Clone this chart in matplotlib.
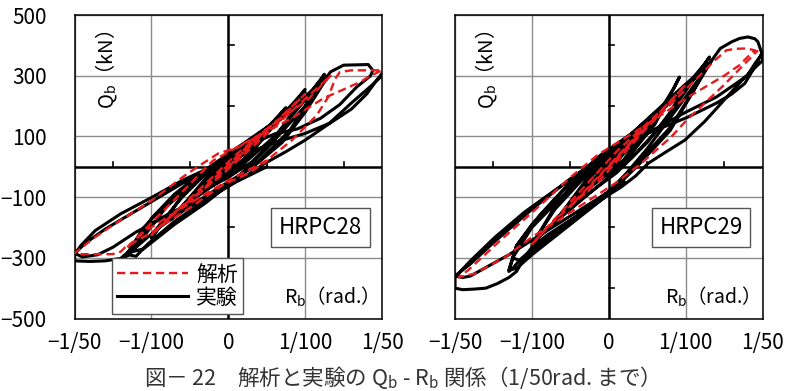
import matplotlib.pyplot as plt
import numpy as np

plt.rcParams['font.family'] = ['Noto Sans CJK JP', 'DejaVu Sans']

# drift angle R_b in 1/100 rad, shear force Q_b in kN
exp28 = [(0, 0), (0.25, 65), (0.15, 35), (0.0, 5), (-0.25, -60), (-0.15, -30), (0.0, -5),
         (0.5, 130), (0.4, 100), (0.2, 50), (0.0, 15), (-0.2, -25), (-0.5, -120),
         (-0.4, -90), (-0.2, -45), (0.0, -10), (0.2, 25),
         (0.5, 125), (0.3, 75), (0.0, 15), (-0.5, -115), (-0.3, -70), (0.0, -10),
         (0.75, 195), (0.6, 150), (0.3, 75), (0.05, 30), (-0.2, -10), (-0.75, -175),
         (-0.6, -135), (-0.3, -70), (-0.05, -25), (0.2, 15),
         (0.75, 185), (0.55, 130), (0.2, 50), (-0.1, 5), (-0.75, -170), (-0.55, -120),
         (-0.2, -45), (0.1, -5),
         (0.5, 110), (1.0, 255), (0.9, 220), (0.6, 150), (0.3, 85), (0.0, 35), (-0.3, -15),
         (-0.6, -95), (-1.0, -235), (-0.9, -200), (-0.6, -135), (-0.3, -75), (0.0, -35),
         (0.3, 15), (0.6, 90),
         (1.0, 245), (0.85, 200), (0.5, 120), (0.1, 45), (-0.2, 0), (-0.6, -100),
         (-1.0, -225), (-0.85, -185), (-0.5, -115), (-0.1, -45), (0.2, 10), (0.6, 100),
         (1.0, 220), (1.25, 305), (1.2, 280), (1.25, 300), (1.1, 255), (0.8, 185),
         (0.4, 110), (0.0, 40), (-0.4, -35), (-0.8, -120), (-1.1, -200), (-1.35, -300),
         (-1.3, -290), (-1.2, -265), (-0.9, -200), (-0.5, -130), (-0.1, -65), (0.3, -5),
         (0.7, 80), (1.0, 180), (1.2, 260), (1.3, 300), (1.15, 250), (0.85, 190),
         (0.5, 130), (0.1, 60), (-0.3, -10), (-0.7, -90), (-1.0, -170), (-1.3, -290),
         (-1.2, -295), (-1.05, -255), (-0.7, -180), (-0.3, -110), (0.0, -55), (0.4, 20),
         (0.8, 120), (1.1, 240), (1.25, 300), (1.1, 250), (0.7, 160), (0.3, 80),
         (-0.2, 0), (-0.8, -130), (-1.25, -280), (-1.1, -270), (-0.7, -190),
         (-0.3, -120), (0.1, -40), (0.5, 60), (1.0, 200),
         (1.33, 313), (1.5, 335), (1.82, 337), (1.88, 318), (1.85, 300), (1.67, 263),
         (1.45, 205), (1.2, 160), (0.9, 125), (0.6, 108), (0.3, 75), (0.05, 32),
         (-0.26, -5), (-0.6, -45), (-0.99, -100), (-1.4, -155), (-1.73, -210),
         (-1.92, -260), (-2.0, -290), (-2.0, -310), (-1.8, -312), (-1.6, -310),
         (-1.4, -302), (-1.3, -280), (-1.2, -250), (-0.99, -185), (-0.7, -145),
         (-0.4, -115), (-0.13, -78), (0.2, -35), (0.48, 12), (0.75, 50), (1.0, 88),
         (1.3, 140), (1.6, 210), (1.85, 265), (2.0, 300), (2.0, 308), (1.9, 275),
         (1.8, 240), (1.6, 190), (1.33, 145), (1.0, 110), (0.6, 80), (0.3, 50),
         (0.0, 20), (-0.3, -15), (-0.6, -55), (-1.0, -115), (-1.3, -160), (-1.6, -205),
         (-1.85, -250), (-2.0, -285), (-1.9, -297), (-1.7, -290), (-1.5, -265),
         (-1.2, -215), (-0.9, -175), (-0.5, -130), (-0.2, -95), (0.1, -50), (0.5, 0)]

ana28 = [(0, 0), (0.5, 125), (0.3, 80), (-0.5, -115), (-0.3, -70), (0.0, 0),
         (1.0, 240), (0.7, 165), (0.1, 40), (-1.0, -225), (-0.7, -150), (-0.1, -30),
         (1.33, 300), (1.05, 225), (0.4, 105), (-0.2, 20), (-1.33, -270), (-1.1, -215),
         (-0.5, -120), (0.0, -45), (0.5, 21), (0.83, 88), (1.15, 170), (1.3, 230),
         (1.39, 290), (1.45, 312), (1.6, 318), (2.0, 318), (1.85, 300), (1.72, 280),
         (1.5, 255), (1.24, 226), (0.85, 164), (0.61, 131), (0.35, 95), (0.13, 65),
         (-0.13, 44), (-0.4, 0), (-0.6, -35), (-0.99, -110), (-1.47, -187),
         (-1.75, -235), (-1.9, -265), (-2.0, -285), (-1.9, -288), (-1.81, -288),
         (-1.51, -288), (-1.4, -280), (-1.34, -265), (-1.03, -221), (-0.5, -135),
         (-0.08, -61), (0.26, -22), (0.52, 22)]

exp29 = [(0, 0), (0.25, 70), (0.15, 40), (0.0, 5), (-0.25, -65), (-0.15, -35), (0.0, -5),
         (0.5, 140), (0.4, 105), (0.2, 55), (0.0, 20), (-0.2, -25), (-0.5, -135),
         (-0.4, -100), (-0.2, -50), (0.0, -20), (0.2, 25),
         (0.5, 135), (0.3, 75), (0.0, 15), (-0.5, -130), (-0.3, -75), (0.0, -15),
         (0.75, 210), (0.6, 165), (0.3, 90), (0.05, 40), (-0.2, -10), (-0.75, -200),
         (-0.6, -150), (-0.3, -80), (-0.05, -30), (0.2, 10),
         (0.75, 205), (0.5, 135), (0.2, 55), (-0.2, -20), (-0.75, -195), (-0.5, -130),
         (-0.2, -55), (0.2, 15),
         (0.6, 140), (0.92, 296), (0.85, 260), (0.7, 200), (0.4, 125), (0.0, 40),
         (-0.3, -20), (-0.7, -130), (-1.0, -260), (-0.9, -230), (-0.6, -160),
         (-0.3, -95), (0.1, -20), (0.5, 80), (0.8, 180),
         (1.0, 270), (0.85, 225), (0.5, 140), (0.1, 50), (-0.3, -30), (-0.7, -140),
         (-1.0, -255), (-0.85, -215), (-0.5, -140), (-0.1, -55), (0.3, 30), (0.7, 140),
         (1.0, 250), (1.31, 362), (1.25, 340), (1.1, 295), (0.9, 250), (0.6, 180),
         (0.3, 110), (-0.1, 40), (-0.5, -50), (-0.9, -160), (-1.2, -260), (-1.3, -345),
         (-1.25, -335), (-1.15, -305), (-0.9, -250), (-0.6, -195), (-0.3, -140),
         (0.0, -80), (0.4, 20), (0.8, 130), (1.1, 250), (1.34, 351), (1.25, 320),
         (1.0, 265), (0.7, 200), (0.3, 110), (-0.2, 10), (-0.6, -80), (-1.0, -190),
         (-1.2, -260), (-1.3, -340), (-1.2, -335), (-1.0, -290), (-0.7, -230),
         (-0.4, -170), (0.0, -90), (0.4, 10), (0.8, 120), (1.1, 250), (1.3, 340),
         (1.15, 300), (0.8, 220), (0.4, 130), (0.0, 50), (-0.5, -70), (-1.0, -200),
         (-1.25, -300), (-1.15, -310), (-0.8, -240), (-0.4, -160), (0.0, -90),
         (0.5, 60), (1.0, 230), (1.2, 300), (1.34, 351), (1.45, 390), (1.6, 412),
         (1.7, 423), (1.81, 428), (1.9, 422), (1.94, 412), (1.99, 374), (1.9, 330),
         (1.77, 275), (1.6, 240), (1.4, 210), (1.03, 164), (0.8, 140), (0.6, 120),
         (0.2, 80), (0.04, 54), (-0.27, 0), (-0.7, -77), (-1.1, -150), (-1.48, -232),
         (-1.8, -310), (-2.0, -364), (-2.0, -400), (-1.9, -405), (-1.75, -403),
         (-1.6, -400), (-1.45, -385), (-1.3, -365), (-1.2, -345), (-1.1, -300),
         (-1.0, -265), (-0.8, -225), (-0.57, -187), (-0.3, -145), (-0.05, -100),
         (0.16, -67), (0.35, -30), (0.51, 11), (0.75, 50), (0.99, 88), (1.25, 150),
         (1.5, 220), (1.75, 290), (2.0, 350), (2.0, 374), (1.9, 340), (1.8, 300),
         (1.6, 265), (1.4, 230), (1.0, 180), (0.5, 110), (0.0, 50), (-0.5, -40),
         (-1.0, -140), (-1.5, -250), (-1.8, -320), (-2.0, -360), (-1.9, -365),
         (-1.8, -360), (-1.55, -325), (-1.3, -290), (-0.8, -210), (-0.3, -130),
         (0.2, -50)]

ana29 = [(0, 0), (0.5, 140), (0.3, 85), (-0.5, -130), (-0.3, -80), (0.0, 0),
         (1.0, 270), (0.7, 190), (0.1, 50), (-1.0, -255), (-0.7, -175), (-0.1, -40),
         (0.5, 130), (1.0, 255), (1.2, 305), (1.38, 351), (1.53, 384), (1.65, 389),
         (1.79, 390), (1.9, 384), (1.83, 368), (1.7, 335), (1.5, 300), (1.0, 225),
         (0.5, 140), (-0.14, 40), (-0.5, -35), (-0.92, -133), (-1.4, -240),
         (-1.83, -341), (-1.95, -364), (-1.85, -358), (-1.74, -352), (-1.55, -325),
         (-1.35, -298), (-1.0, -232), (-0.5, -150), (0.08, -55), (0.42, 11),
         (0.81, 98), (1.01, 153), (1.5, 270), (1.94, 384)]

specimens = ['HRPC28', 'HRPC29']
x_ticks = [-0.02, -0.01, 0, 0.01, 0.02]
x_labels = ['−1/50', '−1/100', '0', '1/100', '1/50']
y_ticks = [-500, -300, -100, 100, 300, 500]
y_labels = ['−500', '−300', '−100', '100', '300', '500']

fig = plt.figure(figsize=(7.93, 3.91), dpi=100)
ax1 = fig.add_axes([0.094, 0.1854, 0.3878, 0.776])
ax2 = fig.add_axes([0.5738, 0.1854, 0.3878, 0.776])

for ax, exp, ana, name in zip([ax1, ax2], [exp28, exp29], [ana28, ana29], specimens):
    e = np.array(exp, dtype=float)
    a = np.array(ana, dtype=float)
    ax.plot(e[:, 0] / 100, e[:, 1], color='black', lw=2.2, zorder=3,
            solid_joinstyle='round', label='実験')
    ax.plot(a[:, 0] / 100, a[:, 1], color='#e8191c', lw=1.7, ls=(0, (3.5, 2)),
            zorder=4, label='解析')

    ax.set_xlim(-0.02, 0.02)
    ax.set_ylim(-500, 500)
    ax.set_xticks(x_ticks, x_labels)
    ax.set_yticks(y_ticks, y_labels)
    ax.grid(color='#8c8c8c', lw=1.0, zorder=0)
    ax.tick_params(length=0, labelsize=15)
    ax.tick_params(axis='x', pad=10)
    ax.tick_params(axis='y', pad=20)
    for s in ax.spines.values():
        s.set_linewidth(1.1)

    ax.axhline(0, color='black', lw=1.8, zorder=2)
    ax.axvline(0, color='black', lw=1.8, zorder=2)
    for yt in (-400, -200, 200, 400):
        ax.plot([0, 0.0007], [yt, yt], color='black', lw=1.2, zorder=2)
    for xt in (-0.015, -0.005, 0.005, 0.015):
        ax.plot([xt, xt], [0, 16], color='black', lw=1.2, zorder=2)

    ax.text(0.105, 0.82, 'Q$_{\\mathregular{b}}$（kN）', rotation=90,
            transform=ax.transAxes, ha='center', va='center', fontsize=14.5)
    ax.text(0.82, 0.072, 'R$_{\\mathregular{b}}$（rad.）', transform=ax.transAxes,
            ha='center', va='center', fontsize=14)
    ax.text(0.80, 0.30, name, transform=ax.transAxes, ha='center', va='center',
            fontsize=16, zorder=6,
            bbox=dict(boxstyle='square,pad=0.35', fc='white', ec='#555555', lw=1))

ax2.set_yticklabels([])

handles, labels = ax1.get_legend_handles_labels()
leg = ax1.legend(handles[::-1], labels[::-1], loc='lower left',
                 bbox_to_anchor=(0.122, 0.015), borderaxespad=0, fancybox=False,
                 edgecolor='#555555', fontsize=15, handlelength=3.4,
                 labelspacing=0.05, borderpad=0.25, handletextpad=0.4,
                 framealpha=1)
leg.get_frame().set_linewidth(1)
leg.set_zorder(7)

fig.text(0.5, 0.035,
         '図－ 22　解析と実験の Q$_{\\mathregular{b}}$ - R$_{\\mathregular{b}}$ 関係（1/50rad. まで）',
         ha='center', va='center', fontsize=15.5, color='#333333')

fig.savefig('out.png', dpi=100)
